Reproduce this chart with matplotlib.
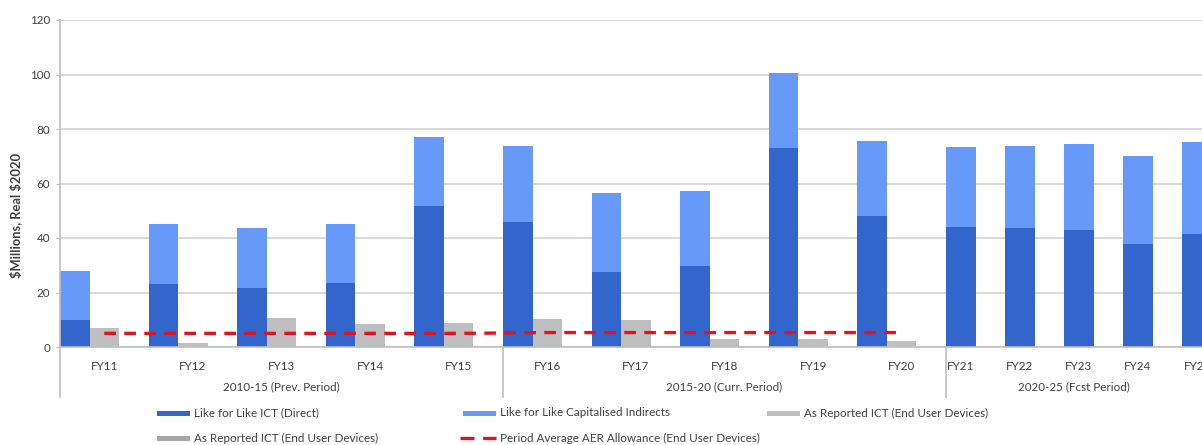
import matplotlib
matplotlib.use("Agg")
import matplotlib.pyplot as plt
from matplotlib.patches import Rectangle
from matplotlib.lines import Line2D
from matplotlib.transforms import blended_transform_factory
import numpy as np

# ---- data ($M, real $2020) ----
years = ['FY11', 'FY12', 'FY13', 'FY14', 'FY15', 'FY16', 'FY17', 'FY18', 'FY19', 'FY20',
         'FY21', 'FY22', 'FY23', 'FY24', 'FY25']
period_names = ['2010-15 (Prev. Period)', '2015-20 (Curr. Period)', '2020-25 (Fcst Period)']
period_sizes = [5, 5, 5]
ict_direct = [10.0, 23.1, 21.5, 23.4, 51.9, 46.0, 27.4, 29.7, 72.9, 48.2,
              44.2, 43.8, 42.8, 37.8, 41.3]
cap_indirects = [18.0, 22.0, 22.0, 21.7, 25.3, 27.8, 29.2, 27.7, 27.5, 27.5,
                 29.1, 30.0, 31.8, 32.3, 33.8]
reported_eud = [6.9, 1.4, 10.5, 8.4, 8.7, 10.2, 9.9, 2.8, 2.8, 2.2]
aer_allowance = [5.0, 5.0, 5.0, 5.0, 5.0, 5.3, 5.3, 5.3, 5.3, 5.3]

legend_labels = ['Like for Like ICT (Direct)', 'Like for Like Capitalised Indirects',
                 'As Reported ICT (End User Devices)', 'As Reported ICT (End User Devices)',
                 'Period Average AER Allowance (End User Devices)']
y_title = r'\$Millions, Real \$2020'

# ---- style ----
C_DIRECT = '#3366CC'
C_INDIRECT = '#6699F8'
C_REPORTED = '#BFBFBF'
C_REPORTED2 = '#A6A6A6'
C_AER = '#E3121B'
C_TEXT = '#404040'
C_GRID = '#D9D9D9'
C_AXIS = '#BFBFBF'
FS = 8.4

plt.rcParams['font.family'] = ['Lato', 'DejaVu Sans']

W, H = 1202, 445
fig = plt.figure(figsize=(W / 100, H / 100), dpi=100)

# slot layout: actual years hold (direct stack, reported, spacer); forecast years hold (stack, spacer)
n_hist = len(reported_eud)
slots = np.array([3] * n_hist + [2] * (len(years) - n_hist))
starts = np.concatenate([[0], np.cumsum(slots)[:-1]])
label_pos = np.where(slots == 3, starts + 1.5, starts + 0.5)

slot_px = 886 / 30
left_px, top_px, base_px = 60, 20, 347
xmax = (W - left_px) / slot_px

ax = fig.add_axes([left_px / W, (H - base_px) / H, 1 - left_px / W, (base_px - top_px) / H])
ax.set_xlim(0, xmax)
ax.set_ylim(0, 120)

# gridlines
ax.set_yticks(np.arange(0, 121, 20))
ax.yaxis.grid(True, color=C_GRID, lw=1.4, zorder=0)
ax.set_axisbelow(True)

# stacked like-for-like bars
ax.bar(starts, ict_direct, width=1.0, align='edge', color=C_DIRECT, zorder=2, lw=0)
ax.bar(starts, cap_indirects, width=1.0, align='edge', bottom=ict_direct,
       color=C_INDIRECT, zorder=2, lw=0)
# as-reported end user devices
ax.bar(starts[:n_hist] + 1, reported_eud, width=1.0, align='edge', color=C_REPORTED,
       zorder=2, lw=0)
# period average allowance
aer_line, = ax.plot(label_pos[:n_hist], aer_allowance, color=C_AER, lw=2.4, zorder=3,
                    solid_capstyle='butt', dash_capstyle='butt')
aer_line.set_dashes((3.5, 2.5))

# axes styling
for s in ['top', 'right']:
    ax.spines[s].set_visible(False)
ax.spines['left'].set_color(C_AXIS)
ax.spines['bottom'].set_color(C_AXIS)
ax.spines['left'].set_linewidth(1.2)
ax.spines['bottom'].set_linewidth(1.2)
ax.tick_params(axis='y', length=3, color=C_AXIS, labelsize=FS, labelcolor=C_TEXT, pad=4)
ax.set_xticks(label_pos)
ax.set_xticklabels(years)
ax.tick_params(axis='x', length=0, labelsize=FS, labelcolor=C_TEXT, pad=10)

# period group separators and labels
trans = blended_transform_factory(ax.transData, ax.transAxes)
axes_h = base_px - top_px
drop = -(397 - base_px) / axes_h
bounds = np.concatenate([[0], np.cumsum(period_sizes)])
for b in bounds[:-1]:
    x = starts[b]
    ax.add_line(Line2D([x, x], [0, drop], transform=trans, color=C_AXIS, lw=1.2,
                       clip_on=False))
for i, name in enumerate(period_names):
    x0 = starts[bounds[i]]
    x1 = starts[bounds[i + 1]] if bounds[i + 1] < len(years) else xmax
    ax.text((x0 + x1) / 2, -(387 - base_px) / axes_h, name, transform=trans,
            ha='center', va='center', fontsize=FS, color=C_TEXT)

# y axis title
fig.text(16 / W, 1 - 215 / H, y_title, rotation=90, ha='center',
         va='center', fontsize=9.3, fontweight='bold', color=C_TEXT)

# legend
def fx(px):
    return px / W

def fy(py):
    return 1 - py / H

entries = [
    (157, 413, 'patch', C_DIRECT, legend_labels[0]),
    (463, 413, 'patch', C_INDIRECT, legend_labels[1]),
    (767, 413, 'patch', C_REPORTED, legend_labels[2]),
    (157, 438, 'patch', C_REPORTED2, legend_labels[3]),
    (463, 438, 'line', C_AER, legend_labels[4]),
]
for x, y, kind, col, lab in entries:
    if kind == 'patch':
        fig.add_artist(Rectangle((fx(x), fy(y + 2.5)), 33 / W, 5 / H, transform=fig.transFigure,
                                 facecolor=col, edgecolor='none'))
    else:
        ln = Line2D([fx(x - 3), fx(x + 33)], [fy(y), fy(y)], transform=fig.transFigure,
                    color=col, lw=2.4, solid_capstyle='butt', dash_capstyle='butt')
        ln.set_dashes((4.2, 2.6))
        fig.add_artist(ln)
    fig.text(fx(x + 37), fy(y), lab, ha='left', va='center', fontsize=FS, color=C_TEXT)

fig.savefig('out.png', dpi=100)
